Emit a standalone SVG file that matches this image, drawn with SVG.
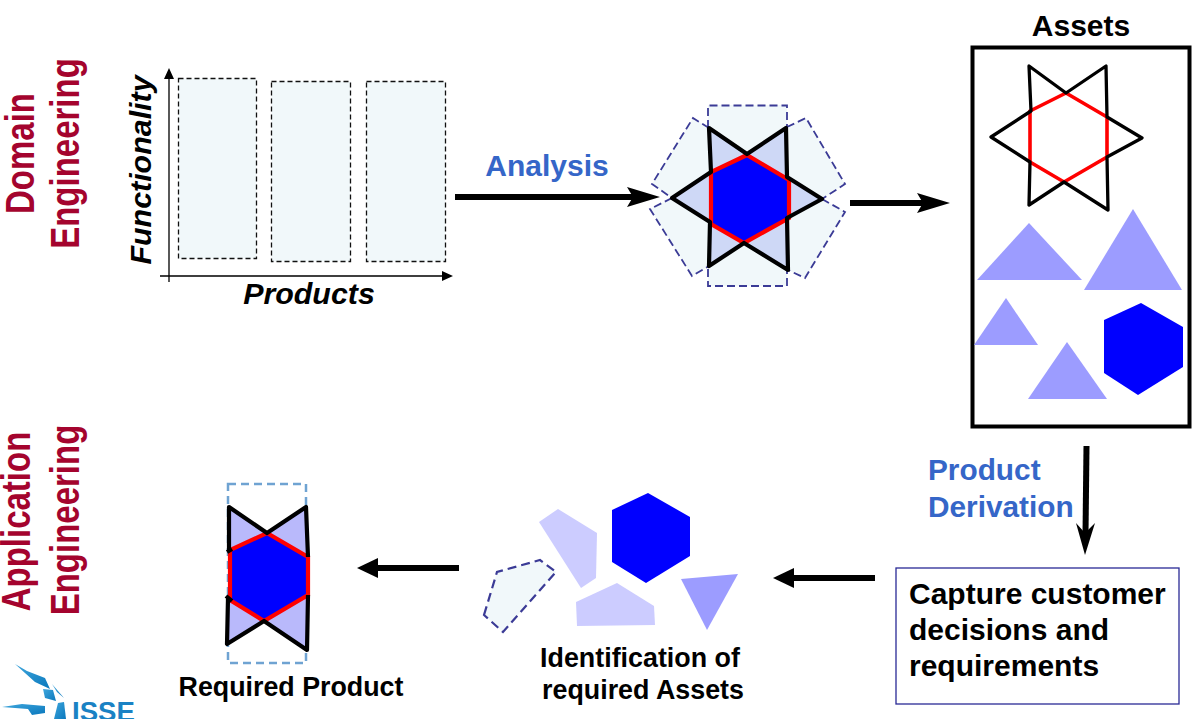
<svg xmlns="http://www.w3.org/2000/svg" width="1196" height="719" viewBox="0 0 1196 719">
<style>
text{font-family:"Liberation Sans",Arial,sans-serif;font-weight:bold}
.red{fill:#a4042e;font-size:33px}
.blue{fill:#3566c8;font-size:29.800px}
.blk{fill:#000}
.pale{fill:#f1f8fa;stroke:none}
.dash{fill:#f1f8fa;stroke:#111;stroke-width:1.300;stroke-dasharray:5 3}
.dn{fill:none;stroke:#3b3b96;stroke-width:1.800;stroke-dasharray:8 4}
.dn2{fill:#f1f8fa;stroke:#3b3b96;stroke-width:2.200;stroke-dasharray:9 5}
.tri{fill:#9c9cff;stroke:none}
.hex{fill:#0000ff;stroke:none}
.lt{fill:#ccccff;stroke:none}
.st{fill:none;stroke:#000;stroke-width:4.200;stroke-linejoin:round}
.st3{fill:none;stroke:#000;stroke-width:3.300;stroke-linejoin:round}
.rh{fill:none;stroke:#f00;stroke-width:4.200;stroke-linejoin:miter}
.rh3{fill:none;stroke:#f00;stroke-width:3.600;stroke-linejoin:miter}
.cn{fill:none;stroke:#000}
</style>
<defs>
<linearGradient id="lg" x1="0" y1="0" x2="1" y2="1"><stop offset="0" stop-color="#3fa6dc"/><stop offset="1" stop-color="#0a78bd"/></linearGradient>
</defs>

<g id="labels-side">
<text class="red" transform="translate(33.500,153.500) rotate(-90) scale(1,1.250)" text-anchor="middle">Domain</text>
<text class="red" transform="translate(79.300,153.500) rotate(-90) scale(1,1.250)" text-anchor="middle">Engineering</text>
<text class="red" transform="translate(30,521.500) rotate(-90) scale(1,1.250)" text-anchor="middle">Application</text>
<text class="red" transform="translate(78.700,520) rotate(-90) scale(1,1.250)" text-anchor="middle">Engineering</text>
</g>

<g id="connectors">
<path class="cn" stroke-width="1.300" d="M169 282V76M160 276H446"/>
<path d="M169 68l-5 11h10zM453 276l-11-5v10z"/>
<path class="cn" stroke-width="6" d="M455 197H635"/>
<path d="M660 197l-33-10 6 10-6 10z"/>
<path class="cn" stroke-width="6" d="M850 203H925"/>
<path d="M950 203l-33-10 6 10-6 10z"/>
<path class="cn" stroke-width="6" d="M1086.500 446L1085.500 535"/>
<path d="M1085 555l10-32-10 10-9-10z"/>
<path class="cn" stroke-width="6" d="M875 578H790"/>
<path d="M773 578l21-10v20z"/>
<path class="cn" stroke-width="6" d="M459 568H375"/>
<path d="M357 568l21-10v20z"/>
</g>

<g id="chart">
<rect class="dash" x="178.500" y="78.500" width="78" height="180"/>
<rect class="dash" x="271.500" y="81.500" width="79" height="180"/>
<rect class="dash" x="366.500" y="81.500" width="79" height="180"/>
<text class="blk" transform="translate(151,170) rotate(-90)" text-anchor="middle" font-size="30.400" font-style="italic">Functionality</text>
<text class="blk" x="309" y="304" text-anchor="middle" font-size="30.400" font-style="italic">Products</text>
</g>

<g id="analysis-label"><text class="blue" x="547" y="176" text-anchor="middle" style="font-size:30px">Analysis</text></g>

<g id="analysis-star">
<path class="pale" d="M708 105H787V286H708Z"/>
<path class="pale" d="M709 128L693 118L652 184L672 198L711 172Z"/>
<path class="pale" d="M787 127L806 118L845 184L822 199L787 177Z"/>
<path class="pale" d="M822 199L845 212L805 278L788 270L787 218Z"/>
<path class="pale" d="M672 198L650 209L692 276L709 266L710 222Z"/>
<path class="dn" d="M708 128V105.500H787V128M787 266V286H708V266"/>
<path class="dn" d="M709 128L693 118L652 184L672 198"/>
<path class="dn" d="M787 127L806 118L845 184L822 199"/>
<path class="dn" d="M822 199L845 212L805 278L788 270"/>
<path class="dn" d="M672 198L650 209L692 276L709 266"/>
<path fill="#ced8f6" d="M709 128L747 154L786 128L787 177L822 199L787 218L788 270L744 243L709 266L710 222L672 198L711 172Z"/>
<path class="hex" d="M747 154L787 177V218L744 243L710 222V172Z"/>
<path class="rh" d="M747 155L789 180V218L744 243L711 224V172Z"/>
<path class="st" d="M709 128L747 154L786 128L787 177L822 199L787 218L788 270L744 243L709 266L710 222L672 198L711 172Z"/>
</g>

<g id="assets">
<text class="blk" x="1081" y="36" text-anchor="middle" font-size="30">Assets</text>
<rect x="972.500" y="47.500" width="217" height="379" fill="#fff" stroke="#000" stroke-width="4"/>
<path class="rh3" d="M1066 93L1107 117V157L1064 182L1030 162V111Z"/>
<path class="st3" d="M1029 66L1066 93L1106 66L1107 117L1142 138L1107 157L1108 210L1064 182L1029 205L1030 162L991 137L1031 111Z"/>
<path class="tri" d="M977 280L1029 223L1082 280Z"/>
<path class="tri" d="M1084 290L1133 209L1182 290Z"/>
<path class="tri" d="M974 345L1006 298L1038 345Z"/>
<path class="tri" d="M1028 399L1067 342L1107 399Z"/>
<path class="hex" d="M1141 303L1183 327V367L1138 395L1104 373V320Z"/>
</g>

<g id="derivation-label">
<text class="blue" x="928" y="480">Product</text>
<text class="blue" x="928" y="517">Derivation</text>
</g>

<g id="capture">
<rect x="896" y="568" width="283" height="136" fill="#fff" stroke="#2a2a96" stroke-width="1.300"/>
<text class="blk" font-size="30"><tspan x="909" y="604">Capture customer</tspan><tspan x="909" y="640">decisions and</tspan><tspan x="909" y="676">requirements</tspan></text>
</g>

<g id="identification">
<path class="dn2" d="M484 615L497 572L540 560L556 572L503 632Z"/>
<path class="lt" d="M539 522L558 509L597 533L596 578L581 588Z"/>
<path class="lt" d="M576 602L617 583L654 606L655 625L577 626Z"/>
<path class="tri" d="M681 579L738 574L707 630Z"/>
<path class="hex" d="M648 493L690 517V556L646 583L612 562V510Z"/>
<text class="blk" font-size="26.850" text-anchor="middle"><tspan x="640" y="667">Identification of</tspan><tspan x="643" y="699">required Assets</tspan></text>
</g>

<g id="required-product">
<rect x="228" y="484" width="78" height="179" fill="#fff" stroke="#6fa3d2" stroke-width="2.500" stroke-dasharray="8 5"/>
<path fill="#b9b9fb" d="M229 507L267 533L306 507L308 557V595L307 650L264 621L227 644L228 598V550Z"/>
<path class="hex" d="M267 533L308 557V595L264 621L230 600V550Z"/>
<path class="rh" d="M267 533L308 557V595L264 621L230 600V550Z"/>
<path class="st" d="M227 552L232 549M229 550L229 507L267 533L306 507L308 557M308 595L307 650L264 621L227 644L228 598M226 596L232 601"/>
<text class="blk" x="291" y="696" text-anchor="middle" font-size="26.800">Required Product</text>
</g>

<g id="logo">
<path fill="url(#lg)" d="M15 664L27 671L45 678L50 689L35 682Z"/>
<path fill="url(#lg)" d="M43 689L53 690L56 701L45 698Z"/>
<path fill="url(#lg)" d="M52 684L64 698L57 692Z"/>
<path fill="url(#lg)" d="M2 707L22 704L45 706V713L32 715L28 709Z"/>
<path fill="url(#lg)" d="M58 703L64 702L66 719H54Z"/>
<text x="72" y="721" font-size="27.600" fill="#1a82c4">ISSE</text>
</g>
</svg>
